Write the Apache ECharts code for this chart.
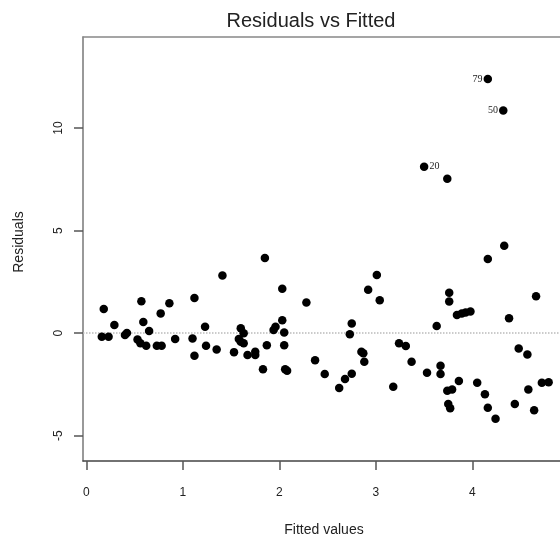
<!DOCTYPE html>
<html>
<head>
<meta charset="utf-8">
<script src="https://cdn.jsdelivr.net/npm/echarts@6/dist/echarts.min.js"></script>
<style>
html,body{margin:0;padding:0;background:#fff;}
#chart{width:560px;height:540px;}
</style>
</head>
<body>
<div id="chart"></div>
<script>
// ---- data ----
const fitted = [0.18,0.29,0.16,0.23,0.40,0.42,0.57,0.59,0.65,0.53,0.56,0.62,0.73,0.78,0.77,0.86,0.92,1.10,1.12,1.12,
  1.23,1.24,1.35,1.41,1.53,1.60,1.63,1.58,1.60,1.63,1.67,1.75,1.75,1.83,1.85,1.87,1.94,1.96,2.03,2.03,
  2.05,2.05,2.08,2.06,2.28,2.37,2.47,2.62,2.68,2.75,2.75,2.73,2.85,2.87,2.88,2.92,3.01,3.04,3.18,3.24,
  3.31,3.37,3.53,3.50,3.63,3.67,3.67,3.74,3.76,3.76,3.74,3.79,3.75,3.77,3.84,3.89,3.93,3.98,3.86,4.05,
  4.13,4.16,4.24,4.16,4.16,4.33,4.32,4.38,4.44,4.48,4.57,4.58,4.64,4.66,4.72,4.79];
const residuals = [1.17,0.39,-0.18,-0.18,-0.10,0.00,1.55,0.54,0.10,-0.31,-0.50,-0.62,-0.62,-0.62,0.96,1.45,-0.29,-0.26,-1.11,1.71,
  0.31,-0.62,-0.80,2.81,-0.93,0.23,-0.01,-0.29,-0.42,-0.50,-1.07,-0.91,-1.07,-1.77,3.66,-0.59,0.15,0.31,0.63,2.16,
  0.03,-0.59,-1.84,-1.76,1.49,-1.33,-2.00,-2.68,-2.24,-1.99,0.47,-0.06,-0.91,-0.99,-1.40,2.11,2.83,1.60,-2.62,-0.50,
  -0.63,-1.40,-1.94,8.11,0.34,-1.60,-2.00,7.53,1.97,1.54,-2.81,-2.75,-3.46,-3.67,0.88,0.95,1.00,1.05,-2.34,-2.42,
  -2.99,-3.64,-4.18,3.61,12.39,4.26,10.86,0.72,-3.46,-0.75,-1.04,-2.75,-3.76,1.80,-2.42,-2.40];
// observation labels for the flagged points (index into the arrays above -> label)
const flaggedIndex = [63, 84, 86];
const flaggedLabel = ['20', '79', '50'];
const xTicks = [0, 1, 2, 3, 4];
const yTicks = [-5, 0, 5, 10];
const titleText = 'Residuals vs Fitted';
const xTitle = 'Fitted values';
const yTitle = 'Residuals';

// ---- build ----
const FONT = '"Liberation Sans", Arial, Helvetica, sans-serif';
const points = fitted.map((x, i) => {
  const k = flaggedIndex.indexOf(i);
  const item = { value: [x, residuals[i]] };
  if (k >= 0) {
    item.label = {
      show: true,
      formatter: flaggedLabel[k],
      position: x > 4 ? 'left' : 'right',
      distance: 1,
      fontSize: 10,
      color: '#222',
      fontFamily: '"Liberation Serif", "DejaVu Serif", serif'
    };
  }
  return item;
});

const chart = echarts.init(document.getElementById('chart'), null, { renderer: 'canvas' });
chart.setOption({
  animation: false,
  backgroundColor: '#fff',
  grid: { left: 83, top: 37, right: 0, bottom: 79, show: false },
  xAxis: [{
    type: 'value', min: -0.035, max: 4.908, position: 'bottom',
    splitLine: { show: false },
    axisLine: { show: true, onZero: false, lineStyle: { color: '#444', width: 1.5 } },
    axisTick: { show: true, inside: false, length: 9, customValues: xTicks, lineStyle: { color: '#555', width: 1.5 } },
    axisLabel: { show: true, customValues: xTicks, margin: 26, fontSize: 12, color: '#222', fontFamily: FONT }
  }, {
    type: 'value', min: -0.035, max: 4.908, position: 'top',
    splitLine: { show: false },
    axisLine: { show: true, onZero: false, lineStyle: { color: '#888', width: 1.5 } },
    axisTick: { show: false },
    axisLabel: { show: false }
  }],
  yAxis: {
    type: 'value', min: -6.24, max: 14.44,
    splitLine: { show: false },
    axisLine: { show: true, onZero: false, lineStyle: { color: '#777', width: 1.5 } },
    axisTick: { show: true, inside: false, length: 9, customValues: yTicks, lineStyle: { color: '#555', width: 1.5 } },
    axisLabel: { show: true, customValues: yTicks, rotate: 90, margin: 18, fontSize: 12, color: '#222', fontFamily: FONT }
  },
  series: [{
    type: 'scatter',
    xAxisIndex: 0,
    data: [],
    z: 1,
    markLine: {
      silent: true,
      symbol: 'none',
      label: { show: false },
      lineStyle: { color: '#bbb', type: 'dotted', width: 1.5 },
      data: [{ yAxis: 0 }]
    }
  }, {
    type: 'scatter',
    xAxisIndex: 0,
    data: points,
    z: 5,
    symbol: 'circle',
    symbolSize: 8.5,
    itemStyle: { color: '#000', opacity: 1 }
  }],
  graphic: [
    { type: 'text', x: 311, y: 21, style: { text: titleText, fontSize: 20, fontFamily: FONT, fill: '#222', align: 'center', verticalAlign: 'middle' } },
    { type: 'text', x: 324, y: 530, style: { text: xTitle, fontSize: 14, fontFamily: FONT, fill: '#222', align: 'center', verticalAlign: 'middle' } },
    { type: 'text', x: 19, y: 242, rotation: Math.PI / 2, style: { text: yTitle, fontSize: 14, fontFamily: FONT, fill: '#222', align: 'center', verticalAlign: 'middle' } }
  ]
});
</script>
</body>
</html>
